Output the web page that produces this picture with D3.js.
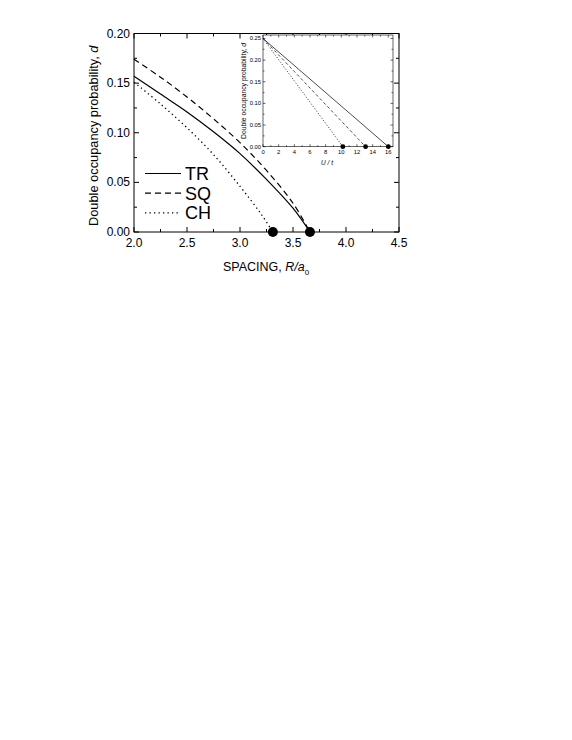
<!DOCTYPE html>
<html>
<head>
<meta charset="utf-8">
<script src="https://cdn.jsdelivr.net/npm/d3@7"></script>
<style>
  body { margin: 0; background: #fff; }
  svg { font-family: "Liberation Sans", Arial, sans-serif; }
</style>
</head>
<body>
<div id="chart"></div>
<script>
// main panel data: double occupancy vs spacing R/a0
const trX = [2.0, 2.25, 2.5, 2.75, 3.0, 3.25, 3.5, 3.66];
const trD = [0.157, 0.139, 0.121, 0.101, 0.079, 0.053, 0.024, 0];
const sqX = [2.0, 2.25, 2.5, 2.75, 3.0, 3.25, 3.5, 3.66];
const sqD = [0.174, 0.156, 0.136, 0.114, 0.090, 0.062, 0.029, 0];
const chX = [2.0, 2.25, 2.5, 2.75, 3.0, 3.2, 3.31];
const chD = [0.151, 0.129, 0.105, 0.078, 0.046, 0.018, 0];
const criticalR = [3.31, 3.66];

// inset data: d vs U/t, straight lines from 0.25 to zero at Uc
const insetNames = ["TR", "SQ", "CH"];
const insetU = [[0, 16.0], [0, 13.1], [0, 10.2]];
const insetD = [[0.25, 0], [0.25, 0], [0.25, 0]];

const xTicks = [2.0, 2.5, 3.0, 3.5, 4.0, 4.5];
const yTicks = [0.00, 0.05, 0.10, 0.15, 0.20];
const insetXTicks = [0, 2, 4, 6, 8, 10, 12, 14, 16];
const insetYTicks = [0.00, 0.05, 0.10, 0.15, 0.20, 0.25];

const legendNames = ["TR", "SQ", "CH"];
const dashes = { TR: null, SQ: "6,4", CH: "1.3,3.2" };

const svg = d3.select("#chart").append("svg")
    .attr("width", 572)
    .attr("height", 740);

const margin = { left: 134, top: 33.5, right: 399, bottom: 232 };

const x = d3.scaleLinear().domain([2.0, 4.5]).range([margin.left, margin.right]);
const y = d3.scaleLinear().domain([0, 0.2]).range([margin.bottom, margin.top]);

const g = svg.append("g");

// frame
g.append("rect")
    .attr("x", margin.left).attr("y", margin.top)
    .attr("width", margin.right - margin.left)
    .attr("height", margin.bottom - margin.top)
    .attr("fill", "none").attr("stroke", "#000").attr("stroke-width", 1);

// ticks, inward on all four sides
function ticksInside(group, xs, ys, xsc, ysc, xMinor, yMinor, majLen, minLen, sw) {
    const [x0, x1] = xsc.range();
    const [y0, y1] = ysc.range();
    const tick = (x1_, y1_, x2_, y2_) => group.append("line")
        .attr("x1", x1_).attr("y1", y1_).attr("x2", x2_).attr("y2", y2_)
        .attr("stroke", "#000").attr("stroke-width", sw);
    xs.forEach(v => { const p = xsc(v); tick(p, y0, p, y0 - majLen); tick(p, y1, p, y1 + majLen); });
    xMinor.forEach(v => { const p = xsc(v); tick(p, y0, p, y0 - minLen); tick(p, y1, p, y1 + minLen); });
    ys.forEach(v => { const p = ysc(v); tick(x0, p, x0 + majLen, p); tick(x1, p, x1 - majLen, p); });
    yMinor.forEach(v => { const p = ysc(v); tick(x0, p, x0 + minLen, p); tick(x1, p, x1 - minLen, p); });
}

ticksInside(g, xTicks, yTicks, x, y,
    d3.range(2.25, 4.5, 0.5), d3.range(0.025, 0.2, 0.05), 5, 3, 1);

g.selectAll(".xlab").data(xTicks).enter().append("text")
    .attr("x", d => x(d)).attr("y", margin.bottom + 15)
    .attr("text-anchor", "middle").attr("font-size", "12px")
    .text(d => d.toFixed(1));

g.selectAll(".ylab").data(yTicks).enter().append("text")
    .attr("x", margin.left - 4).attr("y", d => y(d) + 4)
    .attr("text-anchor", "end").attr("font-size", "12px")
    .text(d => d.toFixed(2));

// axis titles
const xt = g.append("text")
    .attr("x", 266).attr("y", 271)
    .attr("text-anchor", "middle").attr("font-size", "12.5px");
xt.append("tspan").text("SPACING, ");
xt.append("tspan").attr("font-style", "italic").text("R/a");
xt.append("tspan").attr("font-size", "8px").attr("dy", 4).text("0");

const yt = g.append("text")
    .attr("transform", `translate(98,${(margin.top + margin.bottom) / 2 + 3}) rotate(-90)`)
    .attr("text-anchor", "middle").attr("font-size", "12.8px");
yt.append("tspan").text("Double occupancy probability, ");
yt.append("tspan").attr("font-style", "italic").text("d");

// curves
const line = d3.line().x(d => x(d[0])).y(d => y(d[1])).curve(d3.curveCatmullRom.alpha(0.5));
const series = [
    { name: "TR", xs: trX, ds: trD },
    { name: "SQ", xs: sqX, ds: sqD },
    { name: "CH", xs: chX, ds: chD }
];
series.forEach(s => {
    g.append("path")
        .datum(s.xs.map((v, i) => [v, s.ds[i]]))
        .attr("d", line)
        .attr("fill", "none").attr("stroke", "#000")
        .attr("stroke-width", s.name === "CH" ? 1.3 : 1.2)
        .attr("stroke-dasharray", dashes[s.name]);
});

g.selectAll(".crit").data(criticalR).enter().append("circle")
    .attr("cx", d => x(d)).attr("cy", y(0)).attr("r", 5)
    .attr("fill", "#000");

// legend
legendNames.forEach((n, i) => {
    const ly = 173.5 + i * 19.7;
    g.append("line")
        .attr("x1", 145).attr("x2", 181).attr("y1", ly).attr("y2", ly)
        .attr("stroke", "#000").attr("stroke-width", n === "CH" ? 1.3 : 1.2)
        .attr("stroke-dasharray", dashes[n]);
    g.append("text")
        .attr("x", 185).attr("y", ly + 6.5)
        .attr("font-size", "18px")
        .text(n);
});

// inset
const ix = d3.scaleLinear().domain([0, 16.6]).range([263, 393]);
const iy = d3.scaleLinear().domain([0, 0.258]).range([146.7, 35]);
const ig = svg.append("g");

ig.append("rect")
    .attr("x", 263).attr("y", 35).attr("width", 130).attr("height", 111.7)
    .attr("fill", "#fff").attr("stroke", "#000").attr("stroke-width", 0.6);

ticksInside(ig, insetXTicks, insetYTicks, ix, iy,
    d3.range(1, 17, 2), d3.range(0.025, 0.25, 0.05), 2.5, 1.5, 0.6);

ig.selectAll(".ixlab").data(insetXTicks).enter().append("text")
    .attr("x", d => ix(d)).attr("y", 154)
    .attr("text-anchor", "middle").attr("font-size", "5.8px")
    .text(d => d);

ig.selectAll(".iylab").data(insetYTicks).enter().append("text")
    .attr("x", 261).attr("y", d => iy(d) + 2)
    .attr("text-anchor", "end").attr("font-size", "5.8px")
    .text(d => d.toFixed(2));

ig.append("text")
    .attr("x", 327).attr("y", 165)
    .attr("text-anchor", "middle").attr("font-size", "6.5px")
    .attr("font-style", "italic")
    .text("U / t");

const iyt = ig.append("text")
    .attr("transform", "translate(246,91) rotate(-90)")
    .attr("text-anchor", "middle").attr("font-size", "6.8px");
iyt.append("tspan").text("Double occupancy probability, ");
iyt.append("tspan").attr("font-style", "italic").text("d");

const iline = d3.line().x(d => ix(d[0])).y(d => iy(d[1]));
insetNames.forEach((n, k) => {
    ig.append("path")
        .datum(insetU[k].map((u, i) => [u, insetD[k][i]]))
        .attr("d", iline)
        .attr("fill", "none").attr("stroke", "#000")
        .attr("stroke-width", n === "CH" ? 0.9 : 0.7)
        .attr("stroke-dasharray", n === "SQ" ? "3,2.5" : n === "CH" ? "0.9,2" : null);
    ig.append("circle")
        .attr("cx", ix(insetU[k][1])).attr("cy", iy(0)).attr("r", 2.4)
        .attr("fill", "#000");
});
</script>
</body>
</html>
